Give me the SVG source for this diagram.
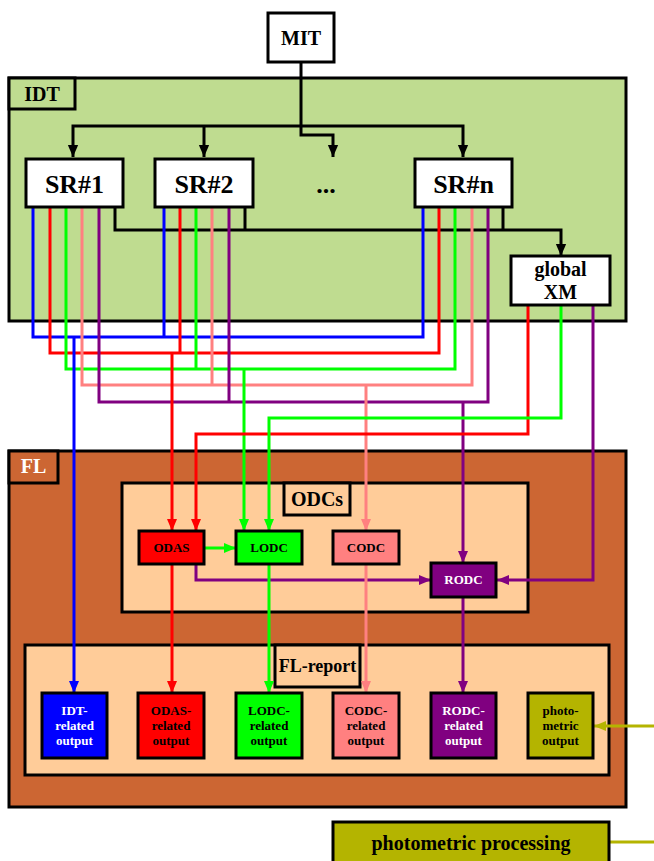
<svg xmlns="http://www.w3.org/2000/svg" width="654" height="861" viewBox="0 0 654 861">
<style>
text{font-family:"Liberation Serif","Times New Roman",serif;font-weight:bold;text-anchor:middle;fill:#000}
.box{stroke:#000;stroke-width:3;stroke-linejoin:miter}
.w{fill:#fff}
.t20{font-size:20px}
.t26{font-size:26px}
.t13{font-size:13px}
.c{fill:none;stroke-width:3;stroke-linejoin:miter}
.k{stroke:#000}.b{stroke:#0000ff}.r{stroke:#ff0000}.g{stroke:#00ff00}.s{stroke:#ff8080}.p{stroke:#800080}.o{stroke:#b4b400}
</style>
<defs>
<marker id="ak" markerUnits="userSpaceOnUse" markerWidth="12" markerHeight="14" refX="14" refY="6" viewBox="0 0 14 12" orient="auto"><path d="M0,0 L14,6 L0,12 z" fill="#000"/></marker>
<marker id="ab" markerUnits="userSpaceOnUse" markerWidth="12" markerHeight="10" refX="12" refY="5" viewBox="0 0 12 10" orient="auto"><path d="M0,0 L12,5 L0,10 z" fill="#0000ff"/></marker>
<marker id="ar" markerUnits="userSpaceOnUse" markerWidth="12" markerHeight="10" refX="12" refY="5" viewBox="0 0 12 10" orient="auto"><path d="M0,0 L12,5 L0,10 z" fill="#ff0000"/></marker>
<marker id="ag" markerUnits="userSpaceOnUse" markerWidth="12" markerHeight="10" refX="12" refY="5" viewBox="0 0 12 10" orient="auto"><path d="M0,0 L12,5 L0,10 z" fill="#00ff00"/></marker>
<marker id="as" markerUnits="userSpaceOnUse" markerWidth="12" markerHeight="10" refX="12" refY="5" viewBox="0 0 12 10" orient="auto"><path d="M0,0 L12,5 L0,10 z" fill="#ff8080"/></marker>
<marker id="ap" markerUnits="userSpaceOnUse" markerWidth="12" markerHeight="10" refX="12" refY="5" viewBox="0 0 12 10" orient="auto"><path d="M0,0 L12,5 L0,10 z" fill="#800080"/></marker>
<marker id="ao" markerUnits="userSpaceOnUse" markerWidth="12" markerHeight="10" refX="12" refY="5" viewBox="0 0 12 10" orient="auto"><path d="M0,0 L12,5 L0,10 z" fill="#b4b400"/></marker>
</defs>

<g id="IDT">
<rect class="box" x="9" y="78" width="617" height="243" fill="#bfdc90"/>
<rect class="box" x="9" y="78" width="66" height="31" fill="#bfdc90"/>
<text class="t20" x="42" y="101">IDT</text>
</g>
<g id="FL">
<rect class="box" x="9" y="451" width="617" height="356" fill="#cc6633"/>
<rect class="box" x="9" y="451" width="49" height="32" fill="#cc6633"/>
<text class="t20" x="33.5" y="473" style="fill:#fff">FL</text>
</g>
<g id="ODCs">
<rect class="box" x="122" y="483" width="406" height="129" fill="#ffcc99"/>
<rect class="box" x="284" y="483" width="66" height="32" fill="#ffcc99"/>
<text class="t20" x="317" y="506">ODCs</text>
</g>
<g id="FL-report">
<rect class="box" x="25" y="645" width="584" height="130" fill="#ffcc99"/>
<rect class="box" x="275" y="645" width="85" height="42" fill="#ffcc99"/>
<text x="317.5" y="672" style="font-size:18px">FL-report</text>
</g>

<g id="connectors">
<path class="c k" d="M301,62 V135 H333 V157" marker-end="url(#ak)"/>
<path class="c k" d="M301,126 H73 V157" marker-end="url(#ak)"/>
<path class="c k" d="M301,126 H463 V157" marker-end="url(#ak)"/>
<path class="c k" d="M204,126 V157" marker-end="url(#ak)"/>
<path class="c k" d="M115,207 V230 H561 V256" marker-end="url(#ak)"/>
<path class="c k" d="M245,207 V230"/>
<path class="c k" d="M503,207 V230"/>

<path class="c b" d="M33,207 V337 H423 V207"/>
<path class="c b" d="M164,207 V337"/>
<path class="c r" d="M50,207 V353 H439 V207"/>
<path class="c r" d="M180,207 V353"/>
<path class="c g" d="M66,207 V369 H455 V207"/>
<path class="c g" d="M196,207 V369"/>
<path class="c s" d="M82,207 V385 H472 V207"/>
<path class="c s" d="M212,207 V385"/>
<path class="c p" d="M99,207 V402 H488 V207"/>
<path class="c p" d="M229,207 V402"/>

<path class="c b" d="M74,337 V693" marker-end="url(#ab)"/>
<path class="c r" d="M172,353 V531" marker-end="url(#ar)"/>
<path class="c g" d="M244,369 V531" marker-end="url(#ag)"/>
<path class="c s" d="M366,385 V531" marker-end="url(#as)"/>
<path class="c p" d="M463,402 V563" marker-end="url(#ap)"/>

<path class="c r" d="M528,305 V434 H196 V531" marker-end="url(#ar)"/>
<path class="c g" d="M561,305 V418 H269 V531" marker-end="url(#ag)"/>
<path class="c p" d="M593,305 V580 H497" marker-end="url(#ap)"/>

<path class="c g" d="M204,548 H236" marker-end="url(#ag)"/>
<path class="c p" d="M196,564 V580 H431" marker-end="url(#ap)"/>
<path class="c r" d="M172,564 V693" marker-end="url(#ar)"/>
<path class="c g" d="M269,564 V693" marker-end="url(#ag)"/>
<path class="c s" d="M366,564 V693" marker-end="url(#as)"/>
<path class="c p" d="M463,597 V693" marker-end="url(#ap)"/>
<path class="c o" d="M654,726 H594" marker-end="url(#ao)"/>
<path class="c o" d="M609,842 H654"/>
</g>

<g id="MIT">
<rect class="box w" x="268" y="13" width="66" height="49"/>
<text class="t20" x="301" y="45">MIT</text>
</g>
<g id="SR1">
<rect class="box w" x="26" y="159" width="97" height="48"/>
<text class="t26" x="74.5" y="193">SR#1</text>
</g>
<g id="SR2">
<rect class="box w" x="155" y="159" width="98" height="48"/>
<text class="t26" x="204" y="193">SR#2</text>
</g>
<g id="dots">
<text class="t26" x="326" y="193">...</text>
</g>
<g id="SRn">
<rect class="box w" x="415" y="159" width="97" height="48"/>
<text class="t26" x="463.5" y="193">SR#n</text>
</g>
<g id="globalXM">
<rect class="box w" x="511" y="256" width="99" height="49"/>
<text class="t20" x="560.5" y="276">global</text>
<text class="t20" x="560.5" y="299">XM</text>
</g>

<g id="ODAS">
<rect class="box" x="139" y="531" width="65" height="33" fill="#ff0000"/>
<text class="t13" x="171.5" y="552">ODAS</text>
</g>
<g id="LODC">
<rect class="box" x="236" y="531" width="66" height="33" fill="#00ff00"/>
<text class="t13" x="269" y="552">LODC</text>
</g>
<g id="CODC">
<rect class="box" x="333" y="531" width="66" height="33" fill="#ff8080"/>
<text class="t13" x="366" y="552">CODC</text>
</g>
<g id="RODC">
<rect class="box" x="431" y="563" width="65" height="34" fill="#800080"/>
<text class="t13" x="463.5" y="584" style="fill:#fff">RODC</text>
</g>

<g id="out-IDT">
<rect class="box" x="42" y="693" width="65" height="65" fill="#0000ff"/>
<text class="t13" style="fill:#fff"><tspan x="74.5" y="715">IDT-</tspan><tspan x="74.5" y="730">related</tspan><tspan x="74.5" y="745">output</tspan></text>
</g>
<g id="out-ODAS">
<rect class="box" x="138" y="693" width="66" height="65" fill="#ff0000"/>
<text class="t13"><tspan x="171" y="715">ODAS-</tspan><tspan x="171" y="730">related</tspan><tspan x="171" y="745">output</tspan></text>
</g>
<g id="out-LODC">
<rect class="box" x="236" y="693" width="66" height="65" fill="#00ff00"/>
<text class="t13"><tspan x="269" y="715">LODC-</tspan><tspan x="269" y="730">related</tspan><tspan x="269" y="745">output</tspan></text>
</g>
<g id="out-CODC">
<rect class="box" x="333" y="693" width="66" height="65" fill="#ff8080"/>
<text class="t13"><tspan x="366" y="715">CODC-</tspan><tspan x="366" y="730">related</tspan><tspan x="366" y="745">output</tspan></text>
</g>
<g id="out-RODC">
<rect class="box" x="431" y="693" width="65" height="65" fill="#800080"/>
<text class="t13" style="fill:#fff"><tspan x="463.5" y="715">RODC-</tspan><tspan x="463.5" y="730">related</tspan><tspan x="463.5" y="745">output</tspan></text>
</g>
<g id="out-photometric">
<rect class="box" x="528" y="693" width="65" height="65" fill="#b4b400"/>
<text class="t13"><tspan x="560.5" y="715">photo-</tspan><tspan x="560.5" y="730">metric</tspan><tspan x="560.5" y="745">output</tspan></text>
</g>

<g id="photometric-processing">
<rect class="box" x="333" y="822" width="276" height="45" fill="#b4b400"/>
<text class="t20" x="471" y="850">photometric processing</text>
</g>
</svg>
